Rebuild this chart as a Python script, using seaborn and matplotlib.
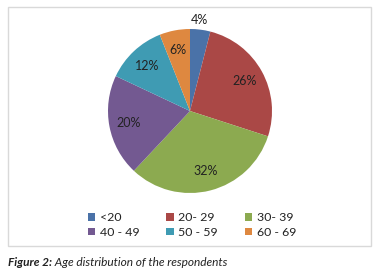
import matplotlib
matplotlib.use("Agg")
import matplotlib.pyplot as plt
import seaborn as sns
from matplotlib.patches import Rectangle

# data
age_groups = ["<20", "20- 29", "30- 39", "40 - 49", "50 - 59", "60 - 69"]
shares = [4, 26, 32, 20, 12, 6]
slice_colors = ["#4A72A8", "#AA4846", "#8CAA50", "#735991", "#3F9BB3", "#DE8840"]
caption_bold = "Figure 2:"
caption_rest = " Age distribution of the respondents"

sns.set_theme(style="white")
plt.rcParams["font.family"] = ["Lato", "DejaVu Sans"]
palette = sns.color_palette(slice_colors)

W, H = 384, 277
fig = plt.figure(figsize=(W / 100, H / 100), dpi=100)
fig.patch.set_facecolor("white")

# chart frame
fig.add_artist(Rectangle((8 / W, 1 - 246 / H), (371 - 8) / W, (246 - 7) / H,
                         transform=fig.transFigure, fill=False,
                         edgecolor="#D9D9D9", linewidth=1.0))

cx, cy, r = 190, 111, 82
ax = fig.add_axes([(cx - r) / W, 1 - (cy + r) / H, 2 * r / W, 2 * r / H])
wedges, texts, autotexts = ax.pie(
    shares, colors=palette, startangle=90, counterclock=False,
    autopct="%d%%", pctdistance=0.76, labels=None,
    textprops={"fontsize": 9, "color": "#222222"},
    wedgeprops={"linewidth": 0},
)
# smallest slice label sits outside the pie
autotexts[0].set_position((0.12, 1.11))
ax.set_xlim(-1, 1)
ax.set_ylim(-1, 1)
ax.set_aspect("equal")
ax.axis("off")

# legend rows fill left to right
order = [0, 3, 1, 4, 2, 5]
leg = fig.legend([wedges[i] for i in order], [age_groups[i] for i in order],
                 ncol=3, loc="center", bbox_to_anchor=(192 / W, 1 - 225 / H),
                 frameon=False, fontsize=8.9, handlelength=0.6, handleheight=0.6,
                 handletextpad=0.35, columnspacing=2.2, labelspacing=0.3,
                 labelcolor="#222222")

t1 = fig.text(8 / W, 1 - 263 / H, caption_bold, fontsize=8.6, fontstyle="italic",
              fontweight="bold", va="center", ha="left", color="#222222")
fig.canvas.draw()
bb = t1.get_window_extent()
fig.text(bb.x1 / W, 1 - 263 / H, caption_rest, fontsize=8.6, fontstyle="italic",
         va="center", ha="left", color="#222222")

fig.savefig("out.png", dpi=100)
